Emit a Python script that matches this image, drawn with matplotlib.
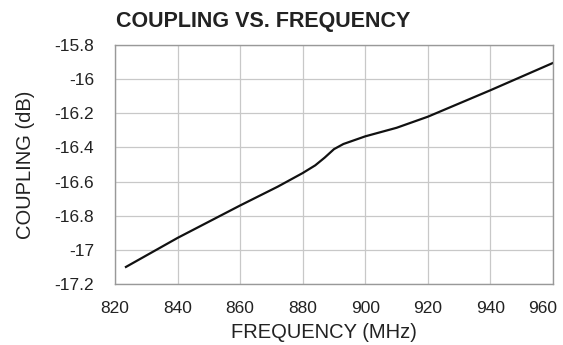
import matplotlib
matplotlib.use("Agg")
import matplotlib.pyplot as plt
from matplotlib.transforms import ScaledTranslation

# Coupling curve
freq_mhz = [823.5, 840, 860, 872, 880, 884, 887, 890, 893, 900, 910, 920, 940, 960]
coupling_db = [-17.10, -16.93, -16.74, -16.63, -16.55, -16.505, -16.46, -16.41, -16.38, -16.335, -16.285, -16.22, -16.065, -15.905]

x_ticks = [820, 840, 860, 880, 900, 920, 940, 960]
y_ticks = [-17.2, -17.0, -16.8, -16.6, -16.4, -16.2, -16.0, -15.8]
y_labels = ["-17.2", "-17", "-16.8", "-16.6", "-16.4", "-16.2", "-16", "-15.8"]

plt.rcParams["font.family"] = ["Liberation Sans", "DejaVu Sans"]
TXT = "#222222"

fig = plt.figure(figsize=(5.63, 3.45), dpi=100)
ax = fig.add_axes([115 / 563, 1 - 284 / 345, (553 - 115) / 563, (284 - 45) / 345])

ax.plot(freq_mhz, coupling_db, color="#111111", lw=1.6)

ax.set_xlim(820, 960)
ax.set_ylim(-17.2, -15.8)
ax.set_xticks(x_ticks)
ax.set_yticks(y_ticks)
ax.set_yticklabels(y_labels)
ax.grid(True, color="#c8c8c8", lw=0.9)
ax.set_axisbelow(True)
ax.tick_params(length=0, labelsize=12.5, colors=TXT)
ax.tick_params(axis="x", pad=12)
ax.tick_params(axis="y", pad=15)
for s in ax.spines.values():
    s.set_color("#999999")
    s.set_linewidth(1.0)

# last x label sits a bit left in the reference so it fits in the frame
last = ax.get_xticklabels()[-1]
last.set_transform(last.get_transform() + ScaledTranslation(-10 / 100, 0, fig.dpi_scale_trans))

ax.set_xlabel("FREQUENCY (MHz)", fontsize=14.5, color=TXT, va="center")
ax.xaxis.set_label_coords(0.477, -0.205)
ax.set_ylabel("COUPLING (dB)", fontsize=14.5, color=TXT, va="center")
ax.yaxis.set_label_coords(-0.205, 0.5)
fig.text(116 / 563, 1 - 21 / 345, "COUPLING VS. FREQUENCY", fontsize=15.5,
         fontweight="bold", color=TXT, va="center", ha="left")

fig.savefig("out.png", dpi=100)
